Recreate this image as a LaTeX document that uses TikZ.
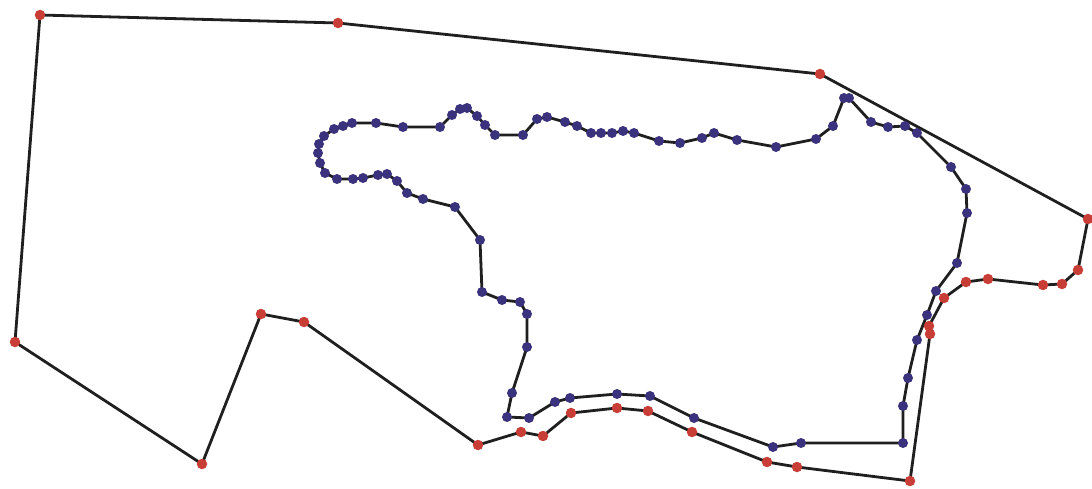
\documentclass[tikz,border=0pt]{standalone}
\definecolor{rc}{RGB}{200,62,55}
\definecolor{bc}{RGB}{58,50,125}
\begin{document}
\begin{tikzpicture}[x=1pt,y=-1pt,
  rdot/.style={circle,fill=rc,inner sep=0pt,minimum size=10.5pt},
  bdot/.style={circle,fill=bc,inner sep=0pt,minimum size=10pt},
  edge/.style={line width=2.8pt,draw=black!88,line join=round}]
\useasboundingbox (0,0) rectangle (1092,489);
% outer (red) boundary
\foreach \x/\y [count=\i] in {40/15,338/23,820/74,1088/219,1078/270,1062/284,1043/285,988/279,966/282,944/298,929/326,930/334,910/481,797/467,767/462,692/432,648/411,617/408,571/413,543/436,521/432,478/445,304/322,261/314,202/464,15/342}
  \coordinate (r\i) at (\x,\y);
% inner (blue) boundary
\foreach \x/\y [count=\i] in {455/207,423/199,407/193,397/181,387/174,378/175,363/178,353/179,337/179,325/173,320/163,318/153,319/144,324/136,334/129,343/126,352/123,376/123,403/127,440/127,452/115,460/109,467/108,477/116,485/125,495/135,523/135,537/119,547/117,565/122,577/126,591/133,601/133,612/133,623/131,634/133,659/141,680/143,702/138,714/133,737/140,776/147,816/139,833/126,844/98,849/98,871/122,888/127,905/126,917/133,951/167,966/189,967/213,957/263,936/291,927/315,917/340,908/378,903/406,903/443,801/443,773/447,694/418,650/396,617/394,570/398,555/402,529/418,507/417,512/393,527/347,527/314,520/302,502/300,482/292,480/240}
  \coordinate (b\i) at (\x,\y);
\draw[edge] (r1) \foreach \i in {2,...,26} { -- (r\i) } -- cycle;
\draw[edge] (b1) \foreach \i in {2,...,76} { -- (b\i) } -- cycle;
\foreach \i in {1,...,76} \node[bdot] (bd\i) at (b\i) {};
\foreach \i in {1,...,26} \node[rdot] (rd\i) at (r\i) {};
\end{tikzpicture}
\end{document}
